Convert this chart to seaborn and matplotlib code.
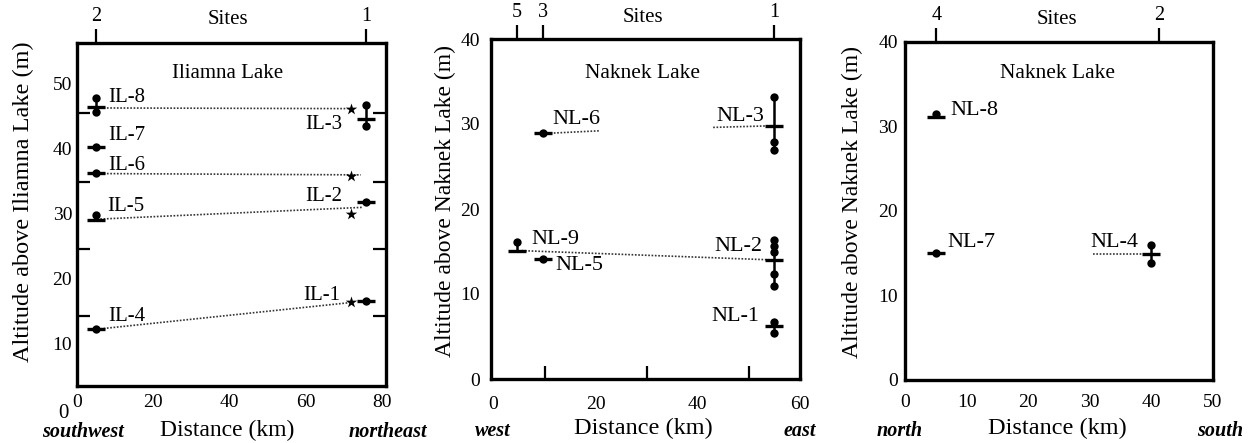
import numpy as np
import pandas as pd
import matplotlib
matplotlib.use("Agg")
import matplotlib.pyplot as plt
from matplotlib.ticker import FixedLocator
import seaborn as sns

sns.set_theme(style="white")
plt.rcParams['font.family'] = ['Liberation Serif', 'DejaVu Serif']
for k in ["text.color", "axes.labelcolor", "xtick.color", "ytick.color", "axes.edgecolor"]:
    plt.rcParams[k] = "black"

W, H = 1255, 443

# ---------------- Data ----------------
# Panel 1: Iliamna Lake (southwest -> northeast)
il_sites = [5.0, 75.8]
il_site_labels = ["2", "1"]
il_names = ["IL-8", "IL-7", "IL-6", "IL-5", "IL-4", "IL-3", "IL-2", "IL-1"]
il_x = [5.0, 5.0, 5.0, 5.0, 5.0, 75.8, 75.8, 75.8]
il_mean = [46.4, 40.3, 36.3, 29.1, 12.3, 44.6, 31.9, 16.6]
il_samples = [[47.9, 45.7], [40.3], [36.3], [29.9], [12.3], [46.7, 43.6], [31.9], [16.6]]
il_star_x = [71.7, 71.7, 71.7, 71.7]
il_star_y = [46.2, 35.8, 30.0, 16.5]
il_corr_x = [[6.1, 70.9], [6.1, 74.4], [6.1, 74.8], [6.1, 72.6]]
il_corr_y = [[46.3, 46.2], [36.2, 36.0], [29.2, 31.0], [12.3, 16.4]]

# Panel 2: Naknek Lake (west -> east)
nw_sites = [4.6, 9.7, 55.0]
nw_site_labels = ["5", "3", "1"]
nw_names = ["NL-6", "NL-3", "NL-9", "NL-5", "NL-2", "NL-1"]
nw_x = [9.7, 55.0, 4.6, 9.7, 55.0, 55.0]
nw_mean = [28.9, 29.8, 15.1, 14.1, 14.0, 6.2]
nw_samples = [[28.9], [33.2, 27.9, 26.9], [16.1], [14.1],
              [16.3, 15.6, 15.0, 12.3, 10.9], [6.7, 5.4]]
nw_corr_x = [[10.5, 20.7], [43.0, 55.0], [5.5, 55.0]]
nw_corr_y = [[28.9, 29.2], [29.6, 29.8], [15.1, 14.0]]

# Panel 3: Naknek Lake (north -> south)
ns_sites = [5.1, 41.2]
ns_site_labels = ["4", "2"]
ns_names = ["NL-8", "NL-7", "NL-4"]
ns_x = [5.1, 5.1, 40.0]
ns_mean = [31.1, 15.0, 14.9]
ns_samples = [[31.5], [15.0], [16.0, 13.8]]
ns_corr_x = [[30.5, 40.0]]
ns_corr_y = [[14.9, 14.9]]

# ---------------- Helpers ----------------
fig = plt.figure(figsize=(W / 100, H / 100), dpi=100)


def px_axes(left, top, right, bottom):
    return fig.add_axes([left / W, (H - bottom) / H, (right - left) / W, (bottom - top) / H])


def ftext(x, y, s, **kw):
    kw.setdefault("ha", "center")
    kw.setdefault("va", "center")
    kw.setdefault("color", "black")
    fig.text(x / W, 1 - y / H, s, **kw)


def draw_groups(ax, xs, means, samples):
    dx, dy = [], []
    for x, s in zip(xs, samples):
        dx += [x] * len(s)
        dy += list(s)
    for x, m, s in zip(xs, means, samples):
        lo, hi = min(list(s) + [m]), max(list(s) + [m])
        if hi > lo:
            ax.vlines(x, lo, hi, color="black", lw=1.8, zorder=3)
    pts = pd.DataFrame({"x": dx, "y": dy})
    sns.scatterplot(data=pts, x="x", y="y", ax=ax, color="black", s=36,
                    linewidth=0, legend=False, zorder=4)
    bars = pd.DataFrame({"x": xs, "y": means})
    sns.scatterplot(data=bars, x="x", y="y", ax=ax, marker="_", s=150,
                    color="black", linewidth=2.4, legend=False, zorder=4)


def draw_corr(ax, cx, cy):
    for xs, ys in zip(cx, cy):
        seg = pd.DataFrame({"x": xs, "y": ys})
        sns.lineplot(data=seg, x="x", y="y", ax=ax, color="#333333", lw=1.2,
                     linestyle=(0, (1, 1)), estimator=None, sort=False, zorder=2)


def setup(ax, xlim, ylim, xt, yt, xminor, yminor, xpad, ypad, sites, site_labels):
    ax.set_xlim(*xlim)
    ax.set_ylim(*ylim)
    ax.set_xticks(xt)
    ax.set_xticklabels([str(v) for v in xt])
    ax.set_yticks(yt)
    ax.set_yticklabels([str(v) for v in yt])
    ax.xaxis.set_minor_locator(FixedLocator(xminor))
    ax.yaxis.set_minor_locator(FixedLocator(yminor))
    ax.tick_params(which="major", length=0, labelsize=14, labelcolor="black")
    ax.tick_params(axis="x", which="major", pad=xpad)
    ax.tick_params(axis="y", which="major", pad=ypad)
    ax.tick_params(which="minor", direction="in", length=9.5, width=1.6, color="black",
                   top=True, bottom=True, left=True, right=True)
    for sp in ax.spines.values():
        sp.set_linewidth(2.4)
        sp.set_color("black")
    ax.set_xlabel("")
    ax.set_ylabel("")
    tw = ax.twiny()
    tw.set_xlim(*xlim)
    tw.set_xticks(sites)
    tw.set_xticklabels(site_labels)
    tw.tick_params(axis="x", direction="out", length=10, width=1.6, pad=2,
                   labelsize=14.5, labelcolor="black", color="black")
    for sp in tw.spines.values():
        sp.set_visible(False)


# ---------------- Panel 1 ----------------
ax1 = px_axes(77, 43, 386, 386)
draw_corr(ax1, il_corr_x, il_corr_y)
draw_groups(ax1, il_x, il_mean, il_samples)
sns.scatterplot(x=il_star_x, y=il_star_y, ax=ax1, marker="*", s=75, color="black",
                linewidth=0, legend=False, zorder=4)
setup(ax1, (0, 81), (3.5, 56.3), [0, 20, 40, 60, 80], [10, 20, 30, 40, 50],
      [20, 40, 60], [14.3, 24.6, 34.9, 45.5], 6, 3.5, il_sites, il_site_labels)
il_lab_x = [8.3, 8.3, 8.3, 8.0, 8.3, 69.5, 69.5, 69.0]
il_lab_y = [47.9, 42.1, 37.4, 31.2, 14.2, 43.7, 32.6, 17.4]
il_lab_ha = ["left"] * 5 + ["right"] * 3
for n, lx, ly, ha in zip(il_names, il_lab_x, il_lab_y, il_lab_ha):
    ax1.text(lx, ly, n, ha=ha, va="center", fontsize=15, color="black")

ftext(228, 19, "Sites", fontsize=15)
ftext(228, 73, "Iliamna Lake", fontsize=15)
ftext(23, 202, "Altitude above Iliamna Lake (m)", rotation=90, fontsize=17.5)
ftext(227, 430, "Distance (km)", fontsize=17)
ftext(83, 432, "southwest", fontsize=14.5, style="italic", weight="bold")
ftext(388, 432, "northeast", fontsize=14.5, style="italic", weight="bold")
ftext(63, 413, "0", fontsize=15)

# ---------------- Panel 2 ----------------
ax2 = px_axes(491, 39, 800, 379)
draw_corr(ax2, nw_corr_x, nw_corr_y)
draw_groups(ax2, nw_x, nw_mean, nw_samples)
setup(ax2, (-0.5, 60), (0, 40), [0, 20, 40, 60], [0, 10, 20, 30, 40],
      [10, 20, 30, 40, 50], [10, 20, 30], 12, 8, nw_sites, nw_site_labels)
nw_lab_x = [11.5, 53.0, 7.5, 12.1, 52.7, 52.1]
nw_lab_y = [30.5, 30.9, 16.4, 13.4, 15.6, 7.4]
nw_lab_ha = ["left", "right", "left", "left", "right", "right"]
for n, lx, ly, ha in zip(nw_names, nw_lab_x, nw_lab_y, nw_lab_ha):
    ax2.text(lx, ly, n, ha=ha, va="center", fontsize=16, color="black")

ftext(643, 17, "Sites", fontsize=15)
ftext(643, 73, "Naknek Lake", fontsize=15.5)
ftext(445, 201, "Altitude above Naknek Lake (m)", rotation=90, fontsize=17)
ftext(643, 428, "Distance (km)", fontsize=17.5)
ftext(493, 431, "west", fontsize=14.5, style="italic", weight="bold")
ftext(800, 431, "east", fontsize=14.5, style="italic", weight="bold")

# ---------------- Panel 3 ----------------
ax3 = px_axes(905, 42, 1213, 380)
draw_corr(ax3, ns_corr_x, ns_corr_y)
draw_groups(ax3, ns_x, ns_mean, ns_samples)
setup(ax3, (0, 50), (0, 40), [0, 10, 20, 30, 40, 50], [0, 10, 20, 30, 40],
      [10, 20, 30, 40], [10, 20, 30], 10, 5, ns_sites, ns_site_labels)
ns_lab_x = [7.3, 6.8, 37.9]
ns_lab_y = [31.9, 16.3, 16.3]
ns_lab_ha = ["left", "left", "right"]
for n, lx, ly, ha in zip(ns_names, ns_lab_x, ns_lab_y, ns_lab_ha):
    ax3.text(lx, ly, n, ha=ha, va="center", fontsize=16, color="black")

ftext(1057, 20, "Sites", fontsize=15)
ftext(1057, 73, "Naknek Lake", fontsize=15.5)
ftext(852, 202, "Altitude above Naknek Lake (m)", rotation=90, fontsize=17)
ftext(1057, 428, "Distance (km)", fontsize=17.5)
ftext(900, 431, "north", fontsize=14.5, style="italic", weight="bold")
ftext(1220, 431, "south", fontsize=14.5, style="italic", weight="bold")

fig.savefig("out.png", dpi=100)
